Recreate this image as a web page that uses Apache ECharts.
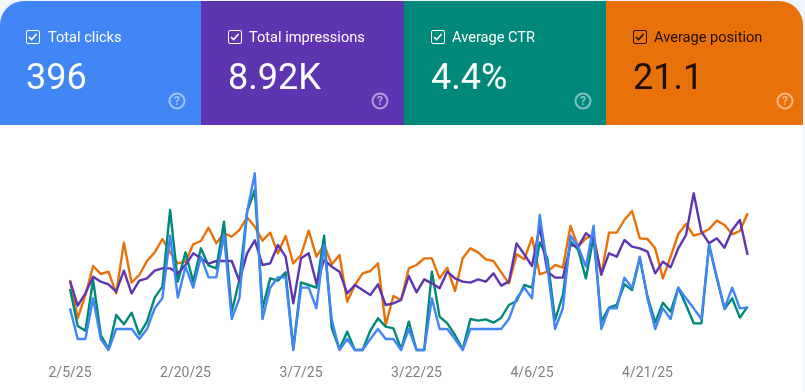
<!DOCTYPE html>
<html>
<head>
<meta charset="utf-8">
<style>html,body{margin:0;padding:0;background:#fff}#c{width:805px;height:392px}</style>
<script src="https://cdn.jsdelivr.net/npm/echarts@6/dist/echarts.min.js"></script>
</head>
<body>
<div id="c"></div>
<script>
const categories = [
'2/5/25','2/6/25','2/7/25','2/8/25','2/9/25','2/10/25','2/11/25','2/12/25','2/13/25','2/14/25','2/15/25','2/16/25','2/17/25','2/18/25','2/19/25','2/20/25','2/21/25','2/22/25','2/23/25','2/24/25','2/25/25','2/26/25','2/27/25','2/28/25',
'3/1/25','3/2/25','3/3/25','3/4/25','3/5/25','3/6/25','3/7/25','3/8/25','3/9/25','3/10/25','3/11/25','3/12/25','3/13/25','3/14/25','3/15/25','3/16/25','3/17/25','3/18/25','3/19/25','3/20/25','3/21/25','3/22/25','3/23/25','3/24/25','3/25/25','3/26/25','3/27/25','3/28/25','3/29/25','3/30/25','3/31/25',
'4/1/25','4/2/25','4/3/25','4/4/25','4/5/25','4/6/25','4/7/25','4/8/25','4/9/25','4/10/25','4/11/25','4/12/25','4/13/25','4/14/25','4/15/25','4/16/25','4/17/25','4/18/25','4/19/25','4/20/25','4/21/25','4/22/25','4/23/25','4/24/25','4/25/25','4/26/25','4/27/25','4/28/25','4/29/25','4/30/25',
'5/1/25','5/2/25','5/3/25','5/4/25'];
const clicks = [125,33,33,155,33,0,63,63,63,33,63,125,155,343,157,250,187,280,218,218,345,93,155,415,530,93,187,218,218,0,187,187,125,315,90,0,33,0,0,33,63,33,33,0,63,0,0,155,63,63,33,0,63,63,63,63,63,93,155,187,155,405,250,63,125,343,310,250,373,63,125,125,217,187,280,155,63,125,93,187,155,125,93,315,220,125,187,125,127];
const impressions = [207,133,170,220,205,197,175,238,170,208,215,238,245,245,230,255,290,275,259,267,267,267,207,290,329,255,260,315,280,140,275,290,200,270,250,235,170,195,180,165,197,135,140,150,222,173,212,200,185,235,215,205,202,212,205,230,193,205,320,287,252,370,235,217,217,315,310,350,333,227,290,280,330,310,305,295,230,265,248,305,345,470,355,320,335,307,360,390,285];
const ctr = [183,72,58,210,45,3,105,77,112,47,85,157,190,420,205,293,205,305,253,245,385,115,210,415,480,125,215,208,233,5,203,195,187,343,65,3,55,0,0,58,95,70,65,3,85,0,0,235,100,80,45,2,93,88,92,82,97,135,147,195,187,323,275,90,165,327,300,215,340,85,127,135,197,180,275,160,83,142,115,187,135,80,80,315,215,123,155,97,130];
const position = [210,95,165,252,228,235,170,322,202,225,267,293,333,293,260,265,317,327,367,320,350,340,360,398,370,328,352,290,342,260,285,358,280,315,257,285,145,195,230,237,260,75,162,150,245,255,275,275,215,247,177,275,305,293,272,267,233,200,287,272,337,227,235,255,247,372,310,335,345,225,352,352,390,417,335,333,305,215,280,348,378,343,350,363,388,375,347,357,410];
const tileLabels = ['Total clicks','Total impressions','Average CTR','Average position'];
const tileValues = ['396','8.92K','4.4%','21.1'];
const tileColors = ['#4285f4','#5e35b1','#00897b','#e8710a'];
const tileInk = ['#ffffff','#ffffff','#ffffff','rgba(0,0,0,0.87)'];
const FONT = 'Roboto, sans-serif';
const tileBox = [[0,201],[201,203],[404,202],[606,197]];
const graphic = [
  {type:'rect',z:0,silent:true,shape:{x:0,y:0,width:805,height:125},style:{fill:'#f1f5fb'}},
  {type:'rect',z:0,silent:true,shape:{x:803,y:125,width:2,height:267},style:{fill:'#f1f5fb'}}
];
tileLabels.forEach((label,i)=>{
  const [x,w]=tileBox[i], ink=tileInk[i], px=x+26+(i>0?1:0), lx=x+48;
  const r = i===0?[24,0,0,0]:(i===3?[0,24,0,0]:0);
  graphic.push({type:'rect',z:1,silent:true,shape:{x,y:1,width:w,height:124,r},style:{fill:tileColors[i]}});
  graphic.push({type:'rect',z:2,silent:true,shape:{x:px+0.5,y:30.5,width:13,height:13,r:1.5},style:{fill:'none',stroke:ink,lineWidth:1}});
  graphic.push({type:'polyline',z:2,silent:true,shape:{points:[[px+3,37],[px+5.6,39.6],[px+10.6,34]]},style:{fill:'none',stroke:ink,lineWidth:1.6}});
  graphic.push({type:'text',z:2,silent:true,style:{x:lx,y:38,text:label,fill:ink,font:'400 14.6px '+FONT,textVerticalAlign:'middle',textAlign:'left'}});
  graphic.push({type:'text',z:2,silent:true,style:{x:px,y:80,text:tileValues[i],fill:ink,font:'400 36px '+FONT,textVerticalAlign:'middle',textAlign:'left'}});
  const hx=x+179-(i===0?2:0);
  const helpInk='rgba(255,255,255,0.5)';
  graphic.push({type:'circle',z:2,silent:true,shape:{cx:hx,cy:101,r:7.5},style:{fill:'none',stroke:helpInk,lineWidth:2}});
  graphic.push({type:'text',z:2,silent:true,style:{x:hx,y:102,text:'?',fill:helpInk,font:'700 12px '+FONT,textAlign:'center',textVerticalAlign:'middle'}});
});
const line=(name,data,color)=>({name,type:'line',data,showSymbol:false,symbol:'none',smooth:false,clip:false,
  lineStyle:{color,width:2.4,join:'round'},itemStyle:{color},emphasis:{disabled:true}});
const chart = echarts.init(document.getElementById('c'),null,{renderer:'canvas'});
chart.setOption({
  animation:false,
  backgroundColor:'#ffffff',
  grid:{left:70,right:57.4,top:150,bottom:42},
  xAxis:{type:'category',data:categories,boundaryGap:false,
    axisLine:{show:false},axisTick:{show:false},splitLine:{show:false},
    axisLabel:{interval:14,color:'#808080',fontFamily:FONT,fontSize:14,margin:16,hideOverlap:false}},
  yAxis:{type:'value',min:0,max:600,show:false},
  graphic:{elements:graphic},
  series:[
    line('Average position',position,'#e8710a'),
    line('Average CTR',ctr,'#00897b'),
    line('Total impressions',impressions,'#5e35b1'),
    line('Total clicks',clicks,'#4285f4')
  ]
});
</script>
</body>
</html>
